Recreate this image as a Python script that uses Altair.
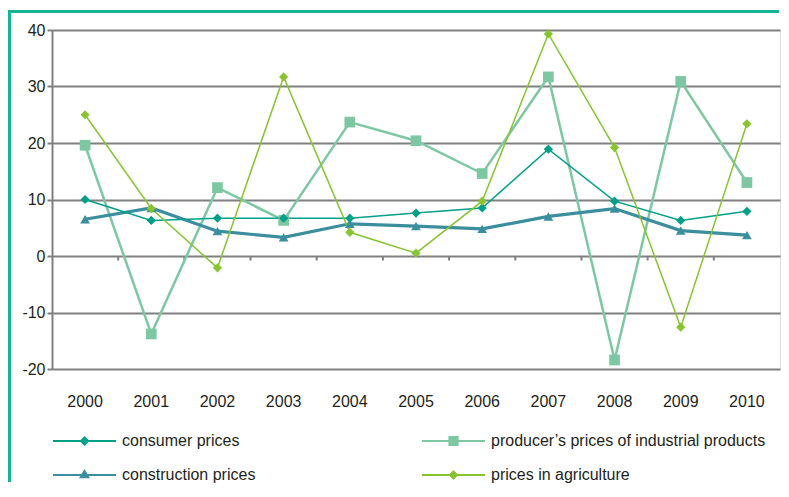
import altair as alt
import pandas as pd

years = [str(y) for y in range(2000, 2011)]
series = [
    "consumer prices",
    "producer\u2019s prices of industrial products",
    "construction prices",
    "prices in agriculture",
]
consumer = [10.0, 6.3, 6.7, 6.7, 6.7, 7.6, 8.5, 18.9, 9.7, 6.3, 7.9]
producer = [19.6, -13.8, 12.1, 6.3, 23.7, 20.4, 14.6, 31.7, -18.4, 30.9, 13.0]
construction = [6.5, 8.5, 4.4, 3.3, 5.7, 5.3, 4.8, 7.0, 8.4, 4.5, 3.7]
agriculture = [25.0, 8.4, -2.1, 31.7, 4.2, 0.5, 9.7, 39.3, 19.2, -12.6, 23.4]
y_ticks = [-20, -10, 0, 10, 20, 30, 40]

colors = ["#009f87", "#7dc8a2", "#3b8e9d", "#88c431"]
legend_paths = [
    "M-1,0H1M0,-0.11L0.11,0L0,0.11L-0.11,0Z",
    "M-1,0H1M-0.13,-0.13H0.13V0.13H-0.13Z",
    "M-1,0H1M0,-0.13L0.12,0.07L-0.12,0.07Z",
    "M-1,0H1M0,-0.11L0.11,0L0,0.11L-0.11,0Z",
]

rows = []
for name, vals in zip(series, [consumer, producer, construction, agriculture]):
    for yr, v in zip(years, vals):
        rows.append({"year": yr, "series": name, "value": v})
df = pd.DataFrame(rows)
tick_df = pd.DataFrame({"year": years[1:], "value": [0] * 10, "value2": [-0.8] * 10})
one = pd.DataFrame({"a": [0]})

FONT = "Liberation Sans"
GREY = "#808080"
TEXT = "#231f20"
TEAL = "#14b395"

xscale = alt.Scale(type="band", domain=years, paddingInner=0, paddingOuter=0)
x_axis = alt.Axis(title=None, domain=False, ticks=False, grid=False, labelAngle=0,
                  labelPadding=24, labelFontSize=16, labelColor=TEXT, labelFont=FONT)
yscale = alt.Scale(domain=[-20, 40], nice=False, zero=False)
y_axis = alt.Axis(title=None, values=y_ticks, grid=True, gridColor=GREY, gridWidth=2,
                  domain=True, domainColor=GREY, domainWidth=2, ticks=True, tickColor=GREY,
                  tickWidth=2, tickSize=5, labelPadding=2, labelFontSize=16,
                  labelColor=TEXT, labelFont=FONT, labelExpr="toString(datum.value)")

X = alt.X("year:O", scale=xscale, axis=x_axis)
Y = alt.Y("value:Q", scale=yscale, axis=y_axis)
fill_scale = alt.Scale(domain=series, range=colors)
stroke_scale = alt.Scale(domain=series, range=colors)
leg = alt.Legend(title=None)

base = alt.Chart(df)

def only(names):
    return base.transform_filter(alt.FieldOneOfPredicate(field="series", oneOf=names))

def line(names, width):
    return only(names).mark_line(strokeWidth=width).encode(
        x=X, y=Y, stroke=alt.Stroke("series:N", scale=stroke_scale, legend=leg))

def pts(names, shape, size):
    return only(names).mark_point(shape=shape, filled=True, size=size, opacity=1).encode(
        x=X, y=Y, fill=alt.Fill("series:N", scale=fill_scale, legend=leg))

legend_layer = base.transform_filter("datum.value > 1000").mark_point(
    filled=True, opacity=1, strokeWidth=2
).encode(
    x=X, y=Y,
    fill=alt.Fill("series:N", scale=fill_scale, legend=leg),
    stroke=alt.Stroke("series:N", scale=stroke_scale, legend=leg),
    shape=alt.Shape("series:N", scale=alt.Scale(domain=series, range=legend_paths), legend=leg),
)

lines_prod = line([series[1]], 2.5)
lines_cons = line([series[2]], 3.2)
lines_thin = line([series[0], series[3]], 1.5)
pts_d = pts([series[0], series[3]], "diamond", 85)
pts_s = pts([series[1]], "square", 115)
pts_t = pts([series[2]], "triangle-up", 95)

ticks = alt.Chart(tick_df).mark_rule(color=GREY, strokeWidth=2).encode(
    x=alt.X("year:O", scale=xscale, axis=x_axis, bandPosition=0),
    y=Y,
    y2="value2",
)

frame_top = alt.Chart(one).mark_rule(color=TEAL, strokeWidth=3).encode(
    x=alt.value(-42.5), x2=alt.value(727), y=alt.value(-18.5))
frame_left = alt.Chart(one).mark_rule(color=TEAL, strokeWidth=3).encode(
    x=alt.value(-42.5), y=alt.value(-20), y2=alt.value(452))

chart = alt.layer(
    legend_layer, ticks, lines_prod, lines_cons, lines_thin, pts_s, pts_t, pts_d,
    frame_top, frame_left
).properties(width=728, height=339, padding=0).configure_view(stroke=None).configure(
    font=FONT
).configure_legend(
    orient="none", legendX=0, legendY=401, columns=2, direction="horizontal",
    symbolSize=3969, symbolStrokeWidth=2, clipHeight=20, rowPadding=14,
    columnPadding=165, labelFontSize=16, labelFont=FONT, labelColor=TEXT,
    labelOffset=5, labelLimit=500, padding=0, titlePadding=0,
)

chart.save("out.html", embed_options={"renderer": "svg", "actions": False})
